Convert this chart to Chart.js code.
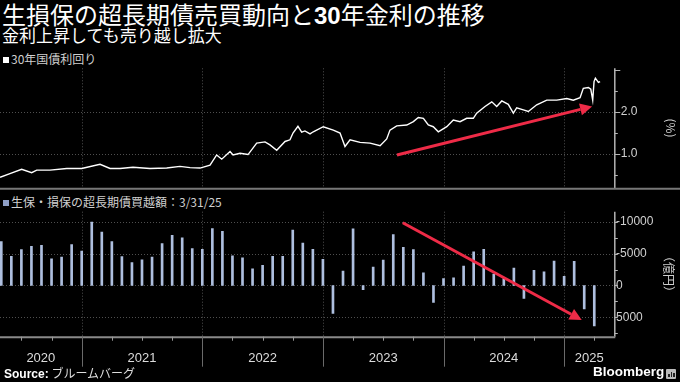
<!DOCTYPE html>
<html><head><meta charset="utf-8">
<script src="https://cdn.jsdelivr.net/npm/chart.js@4.4.1/dist/chart.umd.min.js"></script>
<style>
html,body{margin:0;padding:0;background:#000;width:680px;height:382px;overflow:hidden;font-family:"Noto Sans CJK JP","Liberation Sans",sans-serif;color:#fff;}
#title{position:absolute;left:2px;top:0px;font-size:24px;line-height:28px;white-space:nowrap;}
#title b{font-family:"Liberation Sans",sans-serif;font-weight:bold;}
#sub{position:absolute;left:2px;top:25px;font-size:17px;line-height:20px;white-space:nowrap;}
.leg{position:absolute;left:3px;font-size:12px;line-height:14px;color:#cfcfcf;white-space:nowrap;}
.sq{display:inline-block;width:6px;height:6px;margin-right:2px;vertical-align:1px;}
canvas{position:absolute;left:0;}
#c1{top:60px;}
#c2{top:195px;}
.rot{position:absolute;transform:translate(-50%,-50%) rotate(90deg);font-size:12px;color:#cfcfcf;white-space:nowrap;line-height:14px;}
#src{position:absolute;left:4px;top:365px;font-size:12px;line-height:15px;color:#ddd;white-space:nowrap;}
#src b{font-family:"Liberation Sans",sans-serif;color:#fff;}
#bb{position:absolute;left:593px;top:364px;font-family:"Liberation Sans",sans-serif;font-weight:bold;font-size:13.5px;line-height:15px;color:#fff;}
#ico{position:absolute;left:666px;top:369px;width:10px;height:10px;background:#bbb;border-radius:1px;}
#ico i{position:absolute;bottom:2px;width:1.5px;background:#222;}
</style></head>
<body>
<div id="title">生損保の超長期債売買動向と<b>30</b>年金利の推移</div>
<div id="sub">金利上昇しても売り越し拡大</div>
<div class="leg" style="top:52px"><span class="sq" style="background:#fff"></span>30年国債利回り</div>
<div class="leg" style="top:195px"><span class="sq" style="background:#8e9fc6"></span>生保・損保の超長期債買越額：3/31/25</div>
<canvas id="c1" width="680" height="130"></canvas>
<canvas id="c2" width="680" height="180"></canvas>
<div class="rot" style="left:671px;top:128px">(%)</div>
<div class="rot" style="left:669px;top:274px">（億円）</div>
<div id="src"><b>Source:</b> ブルームバーグ</div>
<div id="bb">Bloomberg</div>
<div id="ico"><i style="left:2px;height:3px"></i><i style="left:4.5px;height:5px"></i><i style="left:7px;height:4px"></i></div>
<script>
// ---- data ----
const yearLabels = ['2020','2021','2022','2023','2024','2025'];
const yearBounds = [2021, 2022, 2023, 2024, 2025];

// 30-year JGB yield (x = decimal year, y = %)
const yieldX = [2020.323,2020.405,2020.502,2020.585,2020.627,2020.737,2020.876,2021.000,2021.152,2021.235,
  2021.318,2021.425,2021.566,2021.705,2021.815,2021.898,2021.981,2022.064,2022.119,2022.161,
  2022.230,2022.255,2022.313,2022.379,2022.451,2022.520,2022.561,2022.617,2022.686,2022.727,
  2022.752,2022.793,2022.824,2022.851,2022.893,2022.920,2023.003,2023.086,2023.142,2023.183,
  2023.225,2023.308,2023.391,2023.474,2023.529,2023.556,2023.612,2023.695,2023.750,2023.791,
  2023.833,2023.874,2023.915,2023.957,2024.027,2024.081,2024.137,2024.192,2024.247,2024.275,
  2024.344,2024.400,2024.441,2024.483,2024.537,2024.579,2024.607,2024.662,2024.703,2024.773,
  2024.856,2024.939,2025.022,2025.076,2025.132,2025.159,2025.201,2025.221,2025.237,2025.248,
  2025.259,2025.284,2025.298];
const yieldY = [0.45,0.54,0.64,0.56,0.62,0.62,0.66,0.66,0.76,0.66,
  0.66,0.69,0.66,0.67,0.71,0.68,0.67,0.74,0.98,0.88,
  1.06,0.98,1.02,0.99,1.26,1.29,1.22,1.09,1.30,1.34,
  1.50,1.66,1.52,1.55,1.48,1.53,1.65,1.57,1.50,1.18,
  1.34,1.28,1.26,1.20,1.36,1.57,1.67,1.69,1.77,1.87,
  1.85,1.69,1.65,1.53,1.65,1.81,1.77,1.85,1.85,1.97,
  2.13,2.24,2.13,2.26,2.18,1.97,2.10,2.05,2.01,2.17,
  2.28,2.28,2.32,2.28,2.34,2.56,2.58,2.54,2.28,2.72,
  2.80,2.70,2.72];

// Monthly super-long JGB trades of life & non-life insurers (億円, JSDA sign: net buy < 0)
const months = ['2020-04','2020-05','2020-06','2020-07','2020-08','2020-09','2020-10','2020-11','2020-12',
  '2021-01','2021-02','2021-03','2021-04','2021-05','2021-06','2021-07','2021-08','2021-09','2021-10','2021-11','2021-12',
  '2022-01','2022-02','2022-03','2022-04','2022-05','2022-06','2022-07','2022-08','2022-09','2022-10','2022-11','2022-12',
  '2023-01','2023-02','2023-03','2023-04','2023-05','2023-06','2023-07','2023-08','2023-09','2023-10','2023-11','2023-12',
  '2024-01','2024-02','2024-03','2024-04','2024-05','2024-06','2024-07','2024-08','2024-09','2024-10','2024-11','2024-12',
  '2025-01','2025-02','2025-03'];
const trades = [-6900,-4600,-5650,-6150,-6300,-4200,-4450,-6450,-5400,
  -9950,-8400,-6900,-4550,-3600,-4050,-4450,-6600,-7900,-7500,-5800,-5700,
  -8950,-8500,-4650,-4350,-2600,-3150,-4600,-4600,-8700,-6650,-5700,-4100,
  4400,-2250,-8900,650,-2900,-4000,-8000,-6000,-5650,-2000,2650,-1100,
  -1200,-3050,-5300,-5700,-1800,-1100,-2750,2050,-2400,-2150,-3850,-1450,
  -3800,3700,6350];

// annotation arrows [x0, y0, x1, y1] in data units
const arrowTop = [2023.614, 0.98, 2025.232, 2.13];
const arrowBottom = [2023.662, -9870, 2025.146, 5420];

// ---- setup ----
const X_MIN = 2020.3226, X_MAX = 2025.416;
const RED = '#ee2b47';
const AX = '#b5b5b5';
const monthToYear = s => { const p = s.split('-').map(Number); return p[0] + p[1] / 12; };

function drawArrow(ctx, x0, y0, x1, y1) {
  const ang = Math.atan2(y1 - y0, x1 - x0), L = 12, W = 6;
  const bx = x1 - L * Math.cos(ang), by = y1 - L * Math.sin(ang);
  ctx.save();
  ctx.setLineDash([]);
  ctx.strokeStyle = RED; ctx.lineWidth = 3;
  ctx.beginPath(); ctx.moveTo(x0, y0); ctx.lineTo(bx, by); ctx.stroke();
  ctx.fillStyle = RED; ctx.beginPath(); ctx.moveTo(x1, y1);
  ctx.lineTo(bx - W * Math.sin(ang), by + W * Math.cos(ang));
  ctx.lineTo(bx + W * Math.sin(ang), by - W * Math.cos(ang));
  ctx.closePath(); ctx.fill();
  ctx.restore();
}

const decor = {
  id: 'decor',
  beforeDatasetsDraw(chart, args, o) {
    const { ctx, chartArea: a, scales: { x, y } } = chart;
    ctx.save();
    ctx.strokeStyle = '#4f4f4f'; ctx.lineWidth = 1; ctx.setLineDash([1, 2]);
    ctx.beginPath();
    o.hLines.forEach(v => { const py = Math.round(y.getPixelForValue(v)) + 0.5; ctx.moveTo(a.left, py); ctx.lineTo(a.right, py); });
    yearBounds.forEach(v => { const px = Math.round(x.getPixelForValue(v)) + 0.5; ctx.moveTo(px, a.top); ctx.lineTo(px, a.bottom); });
    ctx.stroke();
    ctx.restore();
  },
  afterDraw(chart, args, o) {
    const { ctx, chartArea: a, scales: { x, y } } = chart;
    ctx.save();
    ctx.setLineDash([]);
    // right axis line
    ctx.strokeStyle = AX; ctx.lineWidth = 1.5;
    ctx.beginPath(); ctx.moveTo(a.right + 0.5, a.top); ctx.lineTo(a.right + 0.5, a.bottom); ctx.stroke();
    // y tick marks
    ctx.lineWidth = 1;
    ctx.beginPath();
    o.yTicks.forEach(v => {
      const py = Math.round(y.getPixelForValue(v)) + 0.5;
      const len = o.major.includes(v) ? 5 : 2.5;
      ctx.moveTo(a.right, py); ctx.lineTo(a.right + 1 + len, py);
    });
    ctx.stroke();
    if (o.kind === 'top') {
      ctx.strokeStyle = '#777'; ctx.lineWidth = 2;
      ctx.beginPath(); ctx.moveTo(0, a.bottom + 0.5); ctx.lineTo(chart.width, a.bottom + 0.5); ctx.stroke();
    } else {
      // x axis line
      ctx.strokeStyle = '#8a8a8a'; ctx.lineWidth = 2;
      ctx.beginPath(); ctx.moveTo(a.left, a.bottom + 0.5); ctx.lineTo(a.right + 1, a.bottom + 0.5); ctx.stroke();
      // quarter ticks
      ctx.strokeStyle = '#999'; ctx.lineWidth = 1;
      ctx.beginPath();
      for (let q = 2020.25; q < X_MAX; q += 0.25) {
        if (q < X_MIN || Math.abs(q - Math.round(q)) < 1e-6) continue;
        const px = Math.round(x.getPixelForValue(q)) + 0.5;
        ctx.moveTo(px, a.bottom); ctx.lineTo(px, a.bottom + 4);
      }
      ctx.stroke();
      // year dividers below the axis
      ctx.strokeStyle = '#6a6a6a';
      ctx.beginPath();
      yearBounds.forEach(v => { const px = Math.round(x.getPixelForValue(v)) + 0.5; ctx.moveTo(px, a.bottom); ctx.lineTo(px, a.bottom + 30); });
      ctx.stroke();
    }
    const ar = o.arrow;
    drawArrow(ctx, x.getPixelForValue(ar[0]), y.getPixelForValue(ar[1]), x.getPixelForValue(ar[2]), y.getPixelForValue(ar[3]));
    ctx.restore();
  }
};

const tickFont = { family: 'Liberation Sans', size: 12 };

new Chart(document.getElementById('c1'), {
  type: 'line',
  data: { datasets: [{ data: yieldX.map((v, i) => ({ x: v, y: yieldY[i] })), borderColor: '#fff', borderWidth: 1.4, pointRadius: 0, tension: 0 }] },
  options: {
    responsive: false, animation: false, devicePixelRatio: 1,
    layout: { padding: { top: 8.3, bottom: 1.7, left: 0, right: 0 } },
    plugins: { legend: { display: false }, tooltip: { enabled: false },
      decor: { kind: 'top', hLines: [1, 2], yTicks: [0.5, 1, 1.5, 2, 2.5, 3], major: [1, 2, 3], arrow: arrowTop } },
    scales: {
      x: { type: 'linear', min: X_MIN, max: X_MAX, display: false },
      y: { position: 'right', min: 0.19, max: 3.035,
        grid: { display: false, drawTicks: false }, border: { display: false },
        afterBuildTicks: s => { s.ticks = [1, 2].map(v => ({ value: v })); },
        afterFit: s => { s.width = 65.7; s.paddingTop = 0; s.paddingBottom = 0; },
        ticks: { padding: 6.5, color: '#d0d0d0', font: tickFont, callback: v => v.toFixed(1) } }
    }
  },
  plugins: [decor]
});

new Chart(document.getElementById('c2'), {
  type: 'bar',
  data: { datasets: [{ data: months.map((m, i) => ({ x: monthToYear(m), y: trades[i] })), backgroundColor: '#aebfdf', barThickness: 2 }] },
  options: {
    responsive: false, animation: false, devicePixelRatio: 1,
    layout: { padding: { top: 16.7, bottom: 0, left: 0, right: 0 } },
    plugins: { legend: { display: false }, tooltip: { enabled: false },
      decor: { kind: 'bottom', hLines: [-10000, -5000, 0, 5000], yTicks: [-10000, -7500, -5000, -2500, 0, 2500, 5000, 7500], major: [], arrow: arrowBottom } },
    scales: {
      x: { type: 'linear', min: X_MIN, max: X_MAX, offset: false,
        grid: { display: false, drawTicks: false }, border: { display: false },
        afterBuildTicks: s => {
          s.ticks = yearLabels.map(lbl => { const yv = Number(lbl); const lo = Math.max(yv, X_MIN), hi = Math.min(yv + 1, X_MAX); return { value: (lo + hi) / 2 }; });
        },
        afterFit: s => { s.height = 38.3; s.paddingLeft = 0; s.paddingRight = 0; },
        ticks: { autoSkip: false, maxRotation: 0, padding: 14, color: '#dcdcdc', font: { family: 'Liberation Sans', size: 13 },
          callback: (v, i) => yearLabels[i] } },
      y: { position: 'right', reverse: true, min: -11600, max: 8050,
        grid: { display: false, drawTicks: false }, border: { display: false },
        afterBuildTicks: s => { s.ticks = [-10000, -5000, 0, 5000].map(v => ({ value: v })); },
        afterFit: s => { s.width = 65.7; s.paddingTop = 0; s.paddingBottom = 0; },
        ticks: { padding: 1.8, color: '#d0d0d0', font: tickFont, callback: v => String(v) } }
    }
  },
  plugins: [decor]
});
</script>
</body></html>
